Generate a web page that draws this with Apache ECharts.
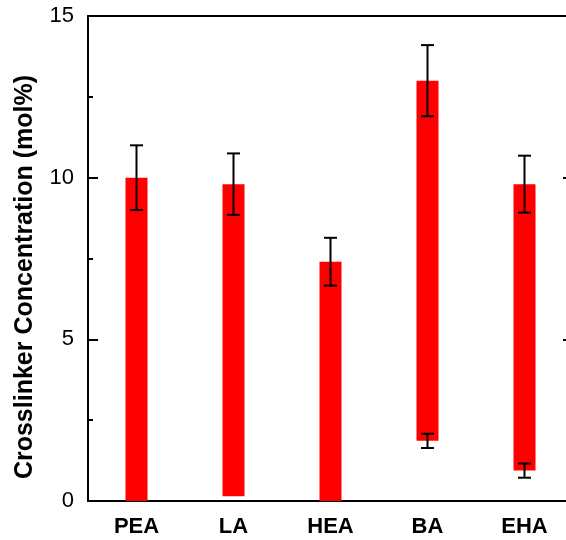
<!DOCTYPE html>
<html>
<head>
<meta charset="utf-8">
<script src="https://cdn.jsdelivr.net/npm/echarts@6/dist/echarts.min.js"></script>
<style>
html,body{margin:0;padding:0;background:#fff;overflow:hidden;}
#chart{width:580px;height:540px;}
</style>
</head>
<body>
<div id="chart"></div>
<script>
var categories = ['PEA', 'LA', 'HEA', 'BA', 'EHA'];
var lowValues = [0, 0.15, 0, 1.86, 0.94];
var highValues = [10.0, 9.8, 7.4, 13.0, 9.8];
var highErr = [1.0, 0.95, 0.74, 1.1, 0.88];
var lowErr = [0, 0, 0, 0.22, 0.22];
var yMin = 0, yMax = 15, yStep = 5;
var yTitle = 'Crosslinker Concentration (mol%)';

var baseData = lowValues.slice();
var spanData = highValues.map(function (h, i) { return h - lowValues[i]; });
var errData = [];
categories.forEach(function (c, i) {
  if (highErr[i] > 0) errData.push([i, highValues[i], highErr[i]]);
  if (lowErr[i] > 0) errData.push([i, lowValues[i], lowErr[i]]);
});

var chart = echarts.init(document.getElementById('chart'));
var font = '"Liberation Sans", Arial, Helvetica, sans-serif';

chart.setOption({
  animation: false,
  grid: {left: 88, top: 16, right: 7, bottom: 39},
  graphic: [{
    type: 'text', x: 25, y: 277, rotation: Math.PI / 2,
    style: {text: yTitle, fill: '#000', font: 'bold 25px ' + font, align: 'center', verticalAlign: 'middle'}
  }],
  xAxis: [{
    type: 'category', data: categories,
    axisLine: {onZero: false, lineStyle: {color: '#000', width: 2}},
    axisTick: {inside: true, length: 9, alignWithLabel: true, lineStyle: {color: '#000', width: 2}},
    axisLabel: {color: '#000', fontFamily: font, fontWeight: 'bold', fontSize: 22, margin: 15}
  }, {
    type: 'category', data: categories, position: 'top',
    axisLine: {onZero: false, lineStyle: {color: '#000', width: 2}},
    axisTick: {inside: true, length: 8, lineStyle: {color: '#000', width: 2}},
    axisLabel: {inside: true, color: '#ffffff', fontSize: 12, margin: 10}
  }],
  yAxis: [{
    type: 'value', min: yMin, max: yMax, interval: yStep,
    axisLine: {show: true, lineStyle: {color: '#000', width: 2}},
    axisTick: {show: true, inside: true, length: 10, lineStyle: {color: '#000', width: 2}},
    minorTick: {show: true, splitNumber: 2, length: 5, lineStyle: {color: '#000', width: 2}},
    splitLine: {show: false},
    axisLabel: {color: '#000', fontFamily: font, fontSize: 22, margin: 14}
  }, {
    type: 'value', min: yMin, max: yMax, interval: yStep, position: 'right',
    axisLine: {show: true, lineStyle: {color: '#000', width: 2}},
    axisTick: {show: true, inside: true, length: 10, lineStyle: {color: '#000', width: 2}},
    minorTick: {show: true, splitNumber: 2, length: 5, lineStyle: {color: '#000', width: 2}},
    splitLine: {show: false},
    axisLabel: {show: false}
  }],
  series: [{
    type: 'bar', stack: 'range', data: baseData, barWidth: 22,
    itemStyle: {color: 'transparent'}, silent: true
  }, {
    type: 'bar', stack: 'range', data: spanData, barWidth: 22,
    itemStyle: {color: '#ff0000'},
    markLine: {
      silent: true, symbol: 'none', z: 20,
      label: {show: false},
      lineStyle: {color: '#000', width: 2, type: 'solid'},
      data: [{yAxis: yMax}]
    }
  }, {
    type: 'custom', z: 10,
    data: errData,
    renderItem: function (params, api) {
      var idx = api.value(0), c = api.value(1), e = api.value(2);
      var top = api.coord([idx, c + e]);
      var bot = api.coord([idx, c - e]);
      var hw = 6.5;
      var style = {stroke: '#000', lineWidth: 2};
      return {type: 'group', children: [
        {type: 'line', shape: {x1: top[0], y1: top[1], x2: bot[0], y2: bot[1]}, style: style},
        {type: 'line', shape: {x1: top[0] - hw, y1: top[1], x2: top[0] + hw, y2: top[1]}, style: style},
        {type: 'line', shape: {x1: bot[0] - hw, y1: bot[1], x2: bot[0] + hw, y2: bot[1]}, style: style}
      ]};
    }
  }]
});
</script>
</body>
</html>
